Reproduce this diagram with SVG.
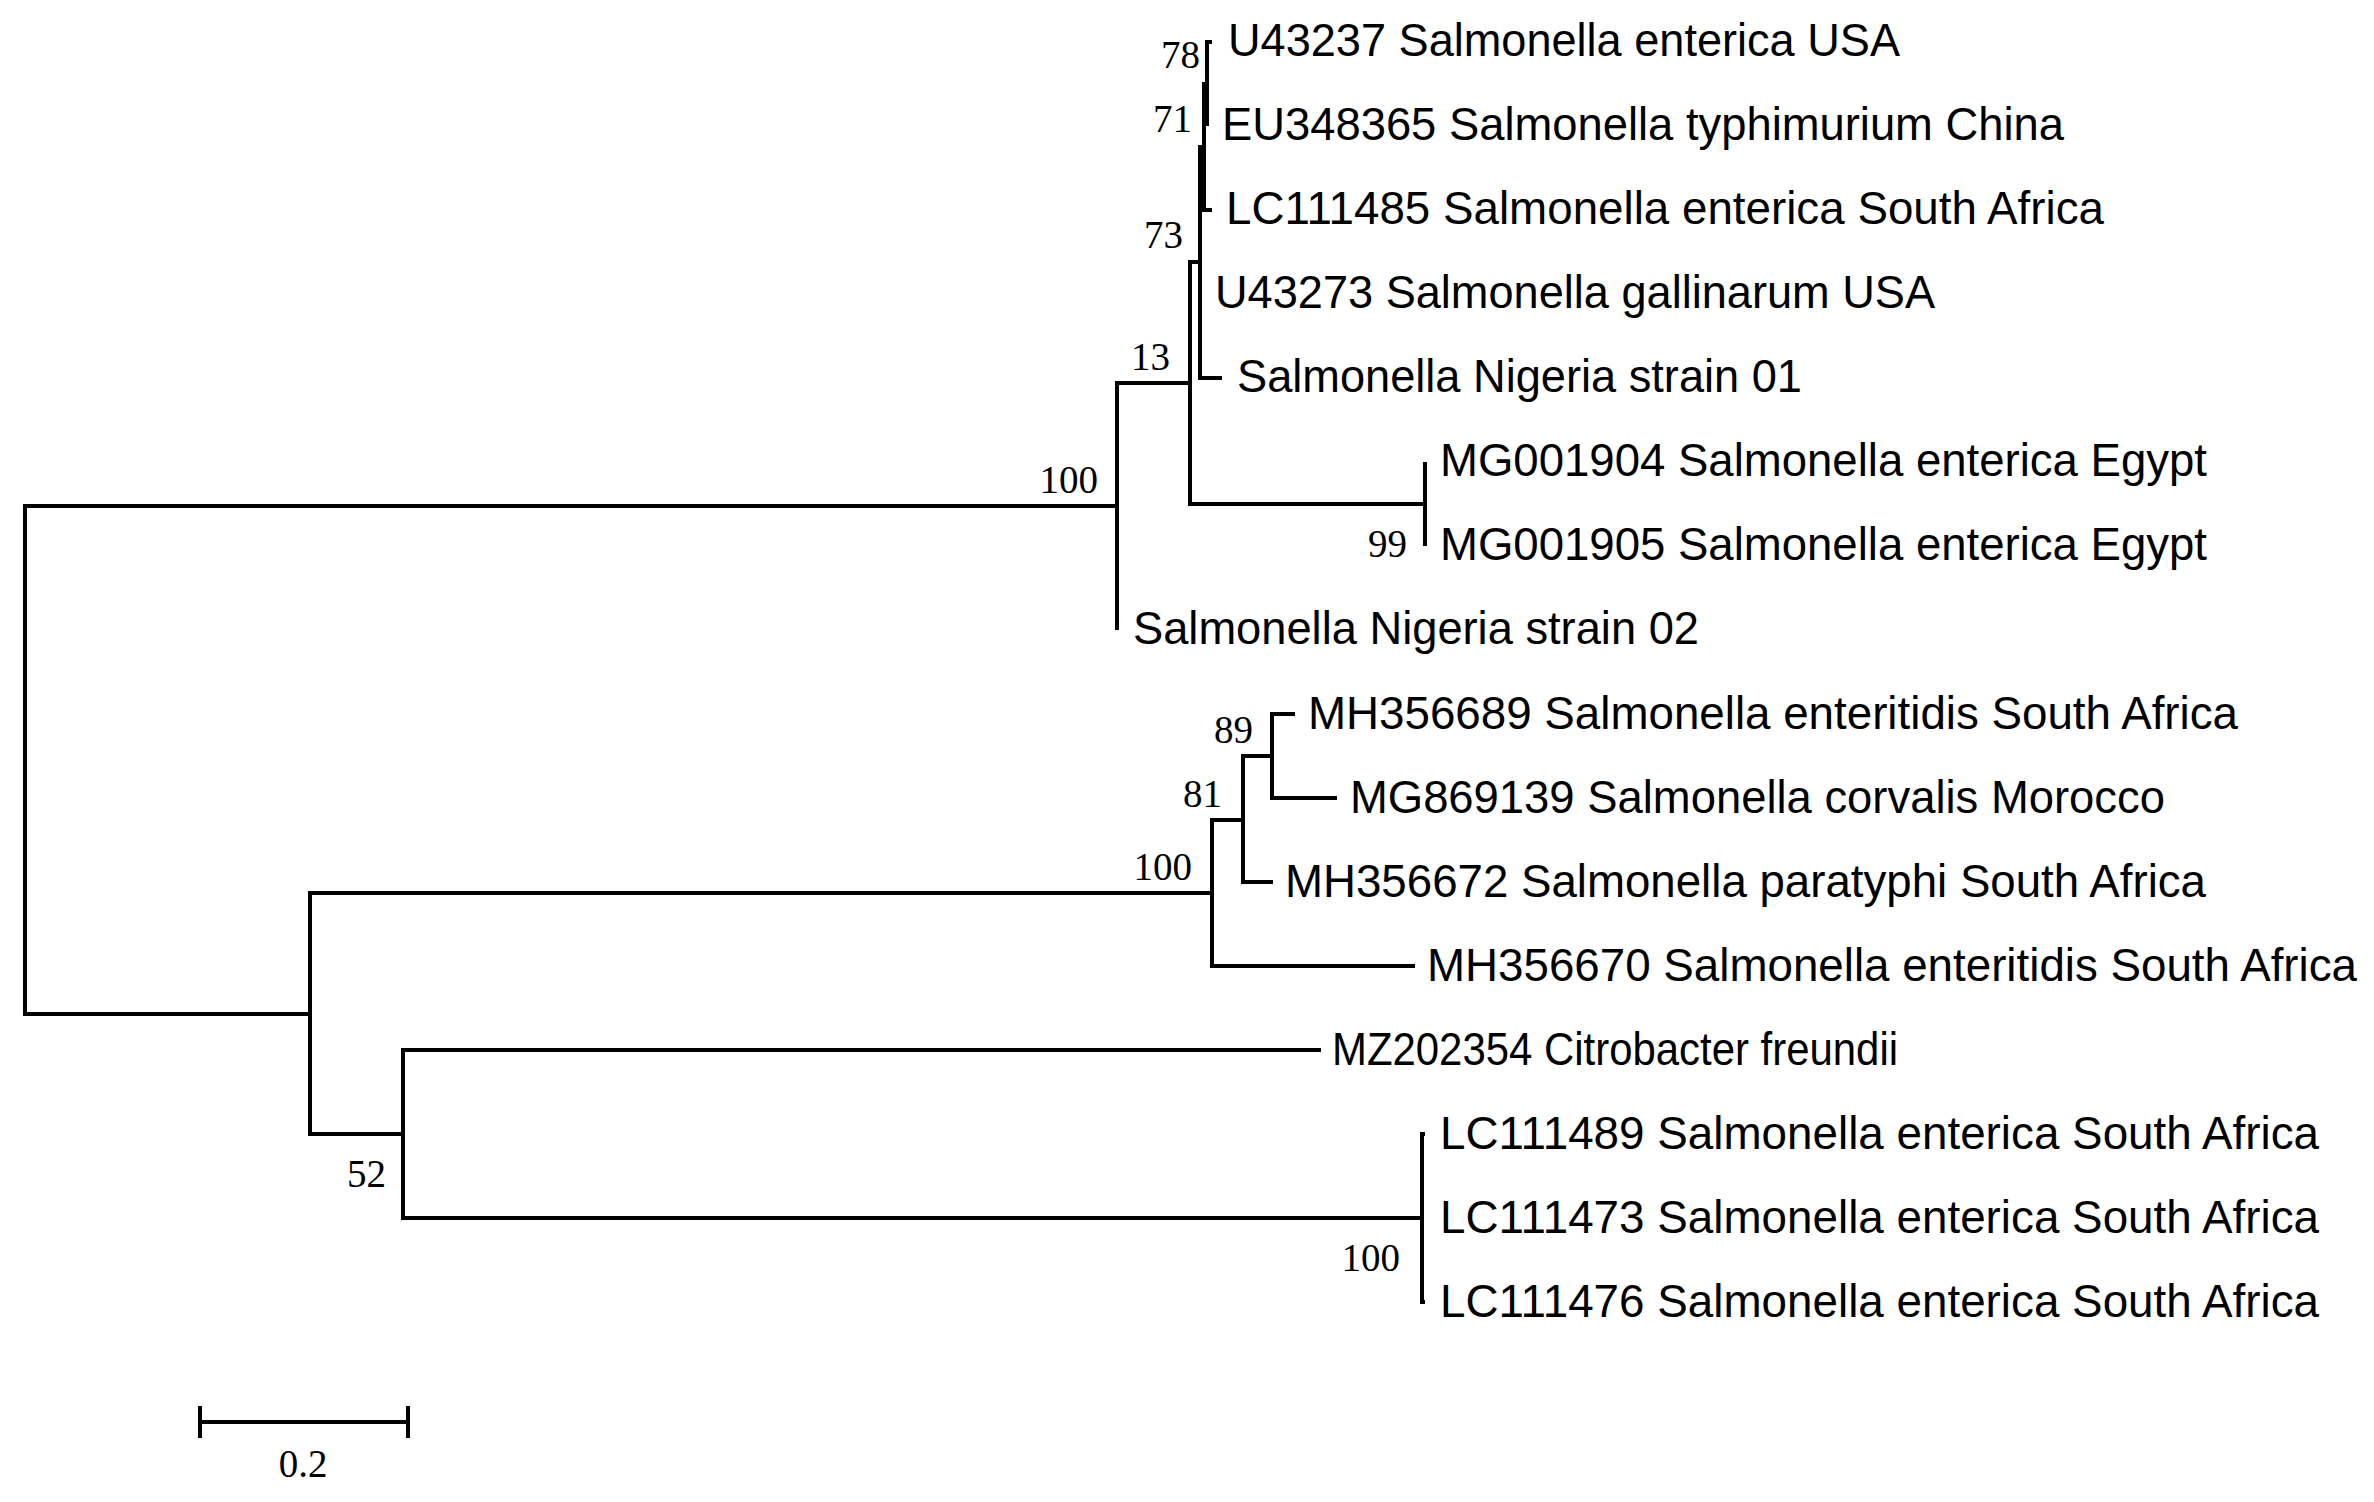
<svg xmlns="http://www.w3.org/2000/svg" width="2374" height="1502" viewBox="0 0 2374 1502">
<style>
.br{fill:none;stroke:#000;stroke-width:4;stroke-linejoin:miter;stroke-linecap:butt}
.tip{font-family:"Liberation Sans",Arial,sans-serif;font-size:45.5px;fill:#000}
.bs{font-family:"Liberation Serif","Times New Roman",serif;font-size:39px;fill:#000;text-anchor:end}
</style>
<rect width="2374" height="1502" fill="#fff"/>
<g id="connectors">
<path class="br" d="M25 760 V506 H1117"/>
<path class="br" d="M25 760 V1014 H310"/>
<path class="br" d="M1117 506 V383 H1190"/>
<path class="br" d="M1117 506 V630"/>
<path class="br" d="M1190 383 V262 H1200"/>
<path class="br" d="M1190 383 V504 H1425"/>
<path class="br" d="M1200 262 V147 H1204"/>
<path class="br" d="M1200 262 V294"/>
<path class="br" d="M1200 262 V378 H1222"/>
<path class="br" d="M1204 147 V84 H1207"/>
<path class="br" d="M1204 147 V210 H1212"/>
<path class="br" d="M1207 84 V42 H1212"/>
<path class="br" d="M1207 84 V126"/>
<path class="br" d="M1425 504 V462"/>
<path class="br" d="M1425 504 V546"/>
<path class="br" d="M310 1014 V893 H1212"/>
<path class="br" d="M310 1014 V1134 H403"/>
<path class="br" d="M1212 893 V820 H1243"/>
<path class="br" d="M1212 893 V966 H1415"/>
<path class="br" d="M1243 820 V756 H1272"/>
<path class="br" d="M1243 820 V882 H1273"/>
<path class="br" d="M1272 756 V714 H1295"/>
<path class="br" d="M1272 756 V798 H1337"/>
<path class="br" d="M403 1134 V1050 H1321"/>
<path class="br" d="M403 1134 V1218 H1422"/>
<path class="br" d="M1422 1218 V1134 H1425"/>
<path class="br" d="M1422 1218 V1302 H1425"/>
</g>
<g id="tips">
<g id="t0"><text class="tip" x="1228" y="56" textLength="672" lengthAdjust="spacingAndGlyphs">U43237 Salmonella enterica USA</text></g>
<g id="t1"><text class="tip" x="1222" y="140" textLength="842" lengthAdjust="spacingAndGlyphs">EU348365 Salmonella typhimurium China</text></g>
<g id="t2"><text class="tip" x="1226" y="224" textLength="878" lengthAdjust="spacingAndGlyphs">LC111485 Salmonella enterica South Africa</text></g>
<g id="t3"><text class="tip" x="1215" y="308" textLength="720" lengthAdjust="spacingAndGlyphs">U43273 Salmonella gallinarum USA</text></g>
<g id="t4"><text class="tip" x="1237" y="392" textLength="565" lengthAdjust="spacingAndGlyphs">Salmonella Nigeria strain 01</text></g>
<g id="t5"><text class="tip" x="1440" y="476" textLength="767" lengthAdjust="spacingAndGlyphs">MG001904 Salmonella enterica Egypt</text></g>
<g id="t6"><text class="tip" x="1440" y="560" textLength="767" lengthAdjust="spacingAndGlyphs">MG001905 Salmonella enterica Egypt</text></g>
<g id="t7"><text class="tip" x="1133" y="644" textLength="566" lengthAdjust="spacingAndGlyphs">Salmonella Nigeria strain 02</text></g>
<g id="t8"><text class="tip" x="1308" y="729" textLength="930" lengthAdjust="spacingAndGlyphs">MH356689 Salmonella enteritidis South Africa</text></g>
<g id="t9"><text class="tip" x="1350" y="813" textLength="815" lengthAdjust="spacingAndGlyphs">MG869139 Salmonella corvalis Morocco</text></g>
<g id="t10"><text class="tip" x="1285" y="897" textLength="921" lengthAdjust="spacingAndGlyphs">MH356672 Salmonella paratyphi South Africa</text></g>
<g id="t11"><text class="tip" x="1427" y="981" textLength="930" lengthAdjust="spacingAndGlyphs">MH356670 Salmonella enteritidis South Africa</text></g>
<g id="t12"><text class="tip" x="1332" y="1065" textLength="566" lengthAdjust="spacingAndGlyphs">MZ202354 Citrobacter freundii</text></g>
<g id="t13"><text class="tip" x="1440" y="1149" textLength="879" lengthAdjust="spacingAndGlyphs">LC111489 Salmonella enterica South Africa</text></g>
<g id="t14"><text class="tip" x="1440" y="1233" textLength="879" lengthAdjust="spacingAndGlyphs">LC111473 Salmonella enterica South Africa</text></g>
<g id="t15"><text class="tip" x="1440" y="1317" textLength="879" lengthAdjust="spacingAndGlyphs">LC111476 Salmonella enterica South Africa</text></g>
</g>
<g id="nodes">
<g id="n78"><text class="bs" x="1200" y="68">78</text></g>
<g id="n71"><text class="bs" x="1192" y="132">71</text></g>
<g id="n73"><text class="bs" x="1183" y="248">73</text></g>
<g id="n13"><text class="bs" x="1170" y="370">13</text></g>
<g id="n100a"><text class="bs" x="1098" y="493">100</text></g>
<g id="n99"><text class="bs" x="1407" y="557">99</text></g>
<g id="n89"><text class="bs" x="1253" y="743">89</text></g>
<g id="n81"><text class="bs" x="1222" y="807">81</text></g>
<g id="n100b"><text class="bs" x="1192" y="880">100</text></g>
<g id="n52"><text class="bs" x="386" y="1187">52</text></g>
<g id="n100c"><text class="bs" x="1400" y="1271">100</text></g>
</g>
<g id="scalebar">
<path class="br" d="M200 1422 H408 M200 1406 V1438 M408 1406 V1438"/>
<text x="303" y="1477" style="font-family:'Liberation Serif','Times New Roman',serif;font-size:39px;text-anchor:middle">0.2</text>
</g>
</svg>
